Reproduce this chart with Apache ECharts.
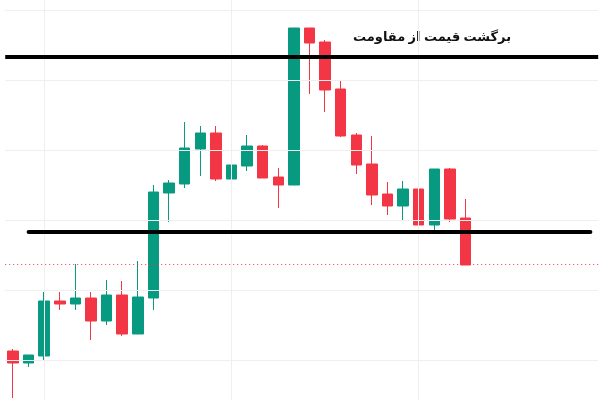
<!DOCTYPE html>
<html><head><meta charset="utf-8">
<script src="https://cdn.jsdelivr.net/npm/echarts@6/dist/echarts.min.js"></script>
<style>html,body{margin:0;padding:0;background:#fff}#c{width:600px;height:400px}</style>
</head><body><div id="c"></div>
<script>
// [open, close, low, high]
var candles = [
  [79, 67, 32, 81], [67, 75, 63, 75], [74, 129, 69, 138], [129, 126, 120, 138],
  [126, 132, 120, 166], [132, 109, 90, 138], [109, 135, 105, 150], [135, 96, 94, 149],
  [96, 133, 96, 169], [132, 238, 120, 245], [237, 247, 208, 250], [246, 282, 242, 308],
  [281, 297, 254, 304], [297, 251, 249, 304], [251, 265, 238, 284], [264, 284, 259, 295],
  [284, 252, 252, 285], [253, 245, 222, 262], [245, 402, 245, 402], [402, 387, 336, 402],
  [388, 340, 318, 390], [341, 294, 293, 350], [295, 265, 256, 297], [266, 235, 225, 294],
  [236, 224, 215, 248], [224, 241, 210, 249], [241, 205, 202, 250], [205, 261, 199, 261],
  [261, 211, 208, 262], [212, 165, 165, 231]
];
var slots = 38;
var categories = [];
for (var i = 0; i < slots; i++) categories.push(String(i));
var seriesData = candles.concat(new Array(slots - candles.length).fill('-'));
var gridLevels = [70, 140, 210, 280, 350, 420];
var gridCols = ['2', '14', '26'];
var resistance = 373;
var support = 198;
var lastPrice = 166;
var title = 'برگشت قیمت از مقاومت';

var gridStyle = { color: '#efefef', width: 1, type: 'solid' };
var marks = [];
gridLevels.forEach(function (v) { marks.push({ yAxis: v, lineStyle: gridStyle }); });
gridCols.forEach(function (c) {
  marks.push([{ coord: [c, 30], lineStyle: gridStyle }, { coord: [c, 430] }]);
});
marks.push({ yAxis: lastPrice, lineStyle: { color: '#f23645', width: 1, type: [1, 3] } });
marks.push({ yAxis: resistance, lineStyle: { color: '#000', width: 4, type: 'solid' } });
marks.push([{ coord: ['1', support], lineStyle: { color: '#000', width: 4, type: 'solid', cap: 'round' } }, { coord: ['37', support] }]);

var chart = echarts.init(document.getElementById('c'));
chart.setOption({
  animation: false,
  grid: { left: 5.2, right: 1.8, top: 0, bottom: 0 },
  xAxis: {
    type: 'category', data: categories, boundaryGap: true,
    axisLine: { show: false }, axisTick: { show: false }, axisLabel: { show: false },
    splitLine: { show: false }
  },
  yAxis: {
    type: 'value', min: 30, max: 430,
    axisLine: { show: false }, axisTick: { show: false }, axisLabel: { show: false },
    splitLine: { show: false }
  },
  graphic: [{
    type: 'text', left: 353, top: 31,
    style: { text: title, font: 'bold 13px "Noto Sans", "DejaVu Sans", sans-serif', fill: '#111' }
  }],
  series: [{
    type: 'candlestick',
    data: seriesData,
    barWidth: 11,
    itemStyle: { color: '#089981', color0: '#f23645', borderColor: '#089981', borderColor0: '#f23645', borderWidth: 1 },
    markLine: { silent: true, symbol: 'none', label: { show: false }, data: marks }
  }]
});
</script></body></html>
